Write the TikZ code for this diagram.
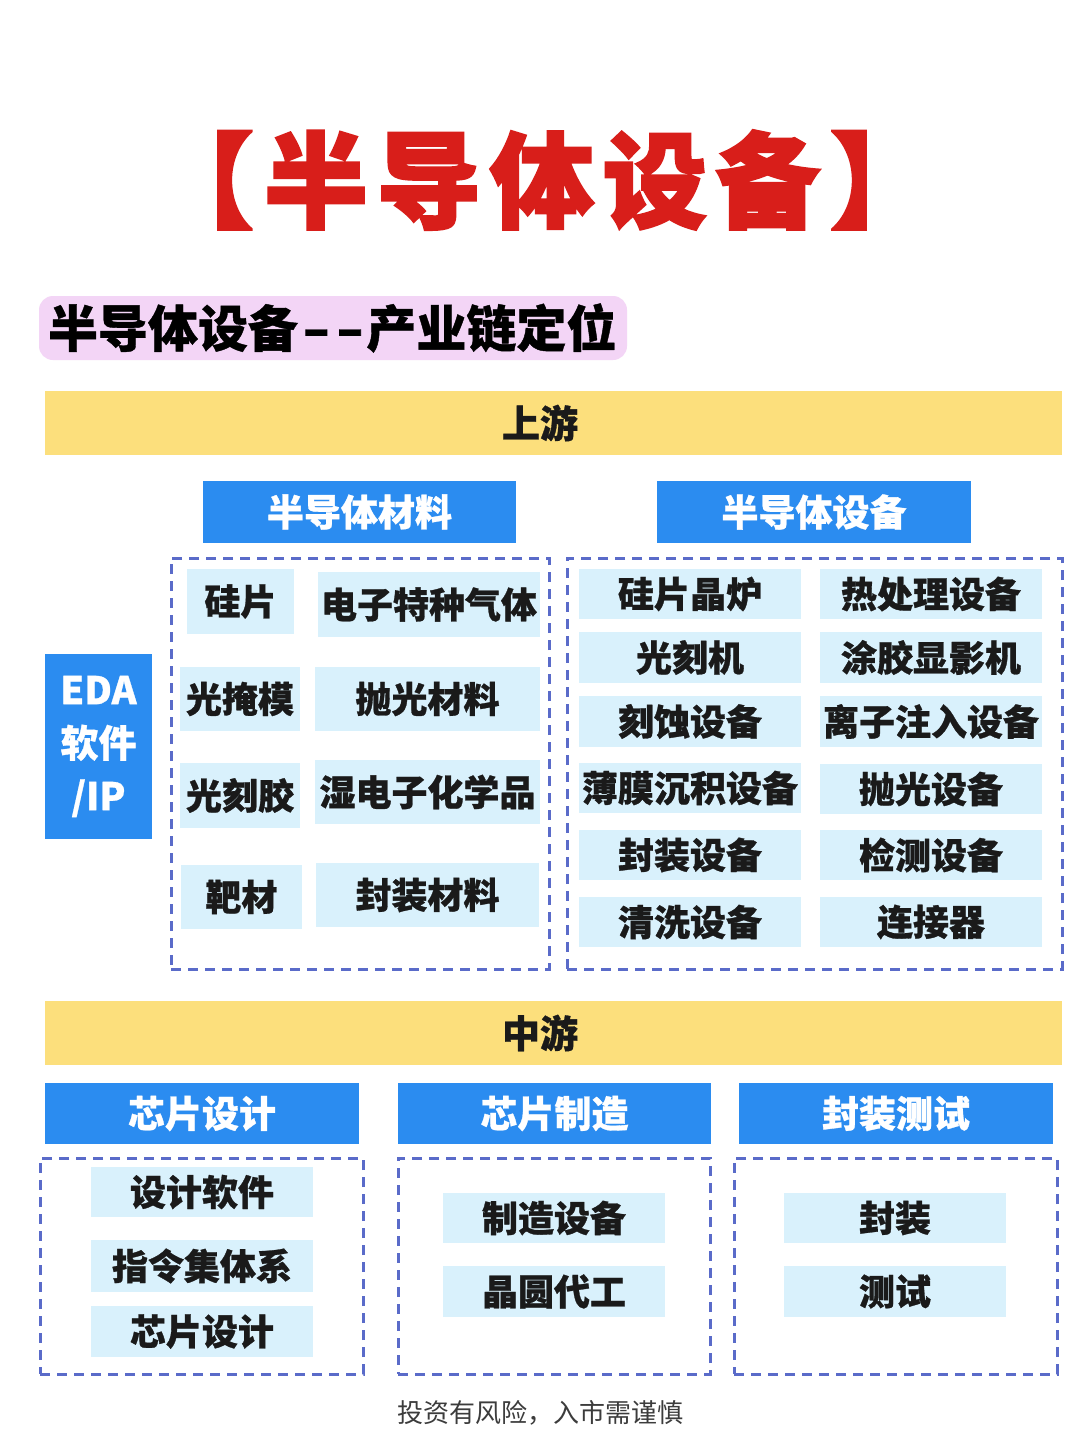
\documentclass[tikz,border=0pt]{standalone}
\usepackage{fontspec}
\setmainfont{Noto Sans CJK SC}[BoldFeatures={FakeBold=0.8}]
\newfontfamily\heavy{Noto Sans CJK SC}[BoldFeatures={FakeBold=2.5}]
\definecolor{titlered}{HTML}{D81E1A}
\definecolor{pinkbg}{HTML}{F3D5F6}
\definecolor{bandyellow}{HTML}{FCDF7C}
\definecolor{headblue}{HTML}{2B8CF0}
\definecolor{itemblue}{HTML}{D9F1FC}
\definecolor{dashblue}{HTML}{5A6BC9}
\definecolor{textdark}{HTML}{1A1A1A}
\newcommand\bx[7]{\node[#6, minimum width={(#4-#2)*0.5pt}, minimum height={(#5-#3)*0.5pt}] (#1) at ({(#2+#4)/2},{(#3+#5)/2}) {#7};}
\newcommand\hy{\scalebox{1.5}[1]{-}}
\begin{document}
\begin{tikzpicture}[x=0.5pt,y=-0.5pt,
  every node/.style={inner sep=0pt, outer sep=0pt},
  item/.style={fill=itemblue, text=textdark, font=\fontsize{18}{22}\selectfont\bfseries},
  head/.style={fill=headblue, text=white, font=\fontsize{18.5}{22}\selectfont\bfseries},
  band/.style={fill=bandyellow},
  bandtext/.style={text=textdark, font=\fontsize{19}{22}\selectfont\bfseries},
  dashbox/.style={draw=dashblue, line width=1.5pt, dash pattern=on 5pt off 3.5pt}]
\useasboundingbox[fill=white] (0,0) rectangle (1080,1440);

% title
\node[text=titlered, font=\fontsize{52}{56}\selectfont\heavy\bfseries] (title) at (542,180)
  {【\hspace{5pt}半\hspace{4.5pt}导\hspace{4.5pt}体\hspace{4.5pt}设\hspace{4.5pt}备\hspace{5pt}】};

% subtitle
\node[fill=pinkbg, rounded corners=7pt, minimum width=294pt, minimum height=32pt] (subbg) at (333,328) {};
\node[anchor=west, text=black, font=\fontsize{25}{28}\selectfont\bfseries] (subtitle) at (48,328)
  {半导体设备\hspace{2pt}\hy\hspace{2.5pt}\hy\hspace{1pt}产业链定位};

% upstream band
\bx{up}{45}{391}{1062}{455}{band}{}
\node[bandtext] (uptext) at (540,423) {上游};

% headers
\bx{hmat}{203}{481}{516}{543}{head}{半导体材料}
\bx{hequ}{657}{481}{971}{543}{head}{半导体设备}

% EDA
\bx{eda}{45}{654}{152}{839}{head, align=center, font=\fontsize{19}{26.5}\selectfont\bfseries}{EDA\\软件\\/IP}

% dashed boxes upstream
\bx{dmat}{171}{558}{549}{969}{dashbox}{}
\bx{dequ}{567}{558}{1062}{969}{dashbox}{}

% materials
\bx{m1}{187}{569}{294}{634}{item}{硅片}
\bx{m2}{318}{572}{540}{637}{item}{电子特种气体}
\bx{m3}{180}{667}{300}{731}{item}{光掩模}
\bx{m4}{315}{667}{540}{731}{item}{抛光材料}
\bx{m5}{180}{763}{300}{828}{item}{光刻胶}
\bx{m6}{315}{760}{540}{824}{item}{湿电子化学品}
\bx{m7}{181}{865}{302}{929}{item}{靶材}
\bx{m8}{316}{863}{539}{927}{item}{封装材料}

% equipment
\bx{e1}{579}{569}{801}{619}{item}{硅片晶炉}
\bx{e2}{820}{569}{1042}{619}{item}{热处理设备}
\bx{e3}{579}{632}{801}{683}{item}{光刻机}
\bx{e4}{820}{632}{1042}{683}{item}{涂胶显影机}
\bx{e5}{579}{696}{801}{747}{item}{刻蚀设备}
\bx{e6}{820}{696}{1042}{747}{item}{离子注入设备}
\bx{e7}{579}{763}{801}{813}{item}{薄膜沉积设备}
\bx{e8}{820}{764}{1042}{814}{item}{抛光设备}
\bx{e9}{579}{830}{801}{880}{item}{封装设备}
\bx{e10}{820}{830}{1042}{880}{item}{检测设备}
\bx{e11}{579}{897}{801}{947}{item}{清洗设备}
\bx{e12}{820}{897}{1042}{947}{item}{连接器}

% midstream band
\bx{mid}{45}{1001}{1062}{1065}{band}{}
\node[bandtext] (midtext) at (540,1033) {中游};

% midstream headers
\bx{hdes}{45}{1083}{359}{1144}{head}{芯片设计}
\bx{hfab}{398}{1083}{711}{1144}{head}{芯片制造}
\bx{hpkg}{739}{1083}{1053}{1144}{head}{封装测试}

% midstream dashed boxes
\bx{ddes}{40}{1158}{363}{1374}{dashbox}{}
\bx{dfab}{398}{1158}{710}{1374}{dashbox}{}
\bx{dpkg}{734}{1158}{1057}{1374}{dashbox}{}

% midstream items
\bx{d1}{91}{1167}{313}{1217}{item}{设计软件}
\bx{d2}{91}{1240}{313}{1292}{item}{指令集体系}
\bx{d3}{91}{1306}{313}{1357}{item}{芯片设计}
\bx{f1}{443}{1193}{665}{1243}{item}{制造设备}
\bx{f2}{443}{1266}{665}{1317}{item}{晶圆代工}
\bx{p1}{784}{1193}{1006}{1243}{item}{封装}
\bx{p2}{784}{1266}{1006}{1317}{item}{测试}

% footer
\node[text=textdark!85, font=\fontsize{13}{16}\selectfont] (footer) at (540,1413) {投资有风险，入市需谨慎};
\end{tikzpicture}
\end{document}
